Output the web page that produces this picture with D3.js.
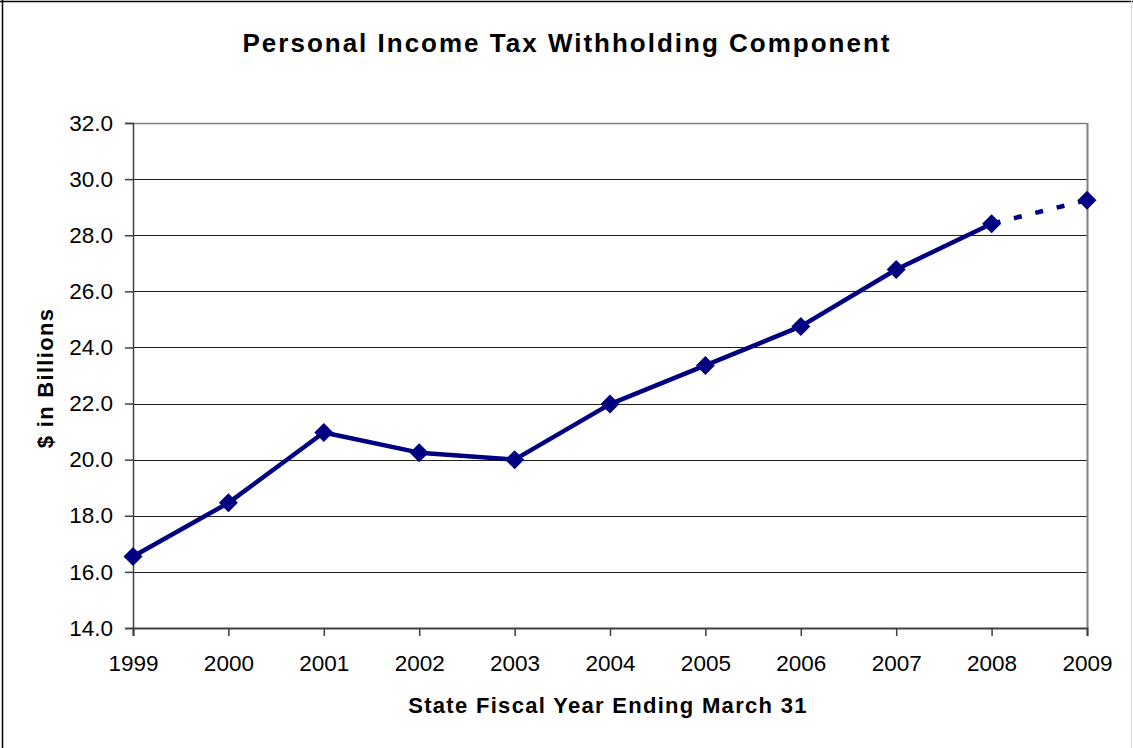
<!DOCTYPE html>
<html><head><meta charset="utf-8">
<script src="https://cdn.jsdelivr.net/npm/d3@7/dist/d3.min.js"></script>
<style>body{margin:0;background:#fff}svg{display:block}text{font-family:"Liberation Sans",Arial,sans-serif}</style>
</head><body>
<svg id="c" width="1133" height="748"></svg>
<script>
const years = ["1999","2000","2001","2002","2003","2004","2005","2006","2007","2008","2009"];
const values = [16.55, 18.46, 20.97, 20.25, 20.0, 21.98, 23.36, 24.75, 26.78, 28.41, 29.25];
const actualCount = 10; // 1999-2008 solid, 2008-2009 dashed (projection)
const yTicks = [14,16,18,20,22,24,26,28,30,32];
const title = "Personal Income Tax Withholding Component";
const xTitle = "State Fiscal Year Ending March 31";
const yTitle = "$ in Billions";

const svg = d3.select("#c");
const L=133, R=1087, T=123, B=628;
const x = d3.scalePoint().domain(years).range([L,R]);
const y = d3.scaleLinear().domain([14,32]).range([B,T]);
const FONT = '"Liberation Sans",Arial,sans-serif';

// outer border
svg.append("line").attr("x1",2.5).attr("x2",2.5).attr("y1",0).attr("y2",748).attr("stroke","#000").attr("stroke-width",1.5);
svg.append("line").attr("x1",0).attr("x2",1133).attr("y1",1.5).attr("y2",1.5).attr("stroke","#000").attr("stroke-width",1.5);
svg.append("line").attr("x1",1131.5).attr("x2",1131.5).attr("y1",0).attr("y2",748).attr("stroke","#ddd").attr("stroke-width",1);

// gridlines
svg.append("g").selectAll("line").data(yTicks.filter(d=>d>14)).join("line")
  .attr("x1",L).attr("x2",R).attr("y1",d=>Math.round(y(d))+0.5).attr("y2",d=>Math.round(y(d))+0.5)
  .attr("stroke",d=>d===32?"#808080":"#222").attr("stroke-width",d=>d===32?1.5:1.2);
// right border
svg.append("line").attr("x1",R+0.5).attr("x2",R+0.5).attr("y1",T).attr("y2",B).attr("stroke","#808080").attr("stroke-width",2);

// y axis
const ya = svg.append("g").attr("transform",`translate(${L},0)`)
  .call(d3.axisLeft(y).tickValues(yTicks).tickFormat(d3.format(".1f")).tickSize(8).tickPadding(12));
ya.select(".domain").attr("stroke","#404040").attr("stroke-width",1.5);
ya.selectAll(".tick line").attr("stroke","#404040").attr("stroke-width",1.5);
ya.selectAll("text").attr("font-size",22.5).attr("fill","#000").style("font-family",FONT);

// x axis
const xa = svg.append("g").attr("transform",`translate(0,${B})`)
  .call(d3.axisBottom(x).tickSize(8).tickPadding(19));
xa.select(".domain").attr("stroke","#404040").attr("stroke-width",2);
xa.selectAll(".tick line").attr("stroke","#404040").attr("stroke-width",1.5);
xa.selectAll("text").attr("font-size",22.5).attr("fill","#000").style("font-family",FONT);

// line
const pts = years.map((yr,i)=>({yr,v:values[i]}));
const line = d3.line().x(d=>x(d.yr)).y(d=>y(d.v));
svg.append("path").datum(pts.slice(0,actualCount)).attr("d",line)
  .attr("fill","none").attr("stroke","#000080").attr("stroke-width",4.5).attr("stroke-linejoin","round");
svg.append("path").datum(pts.slice(actualCount-1)).attr("d",line)
  .attr("fill","none").attr("stroke","#000080").attr("stroke-width",4.5).attr("stroke-dasharray","8,14").attr("stroke-dashoffset",21);

// markers
svg.append("g").selectAll("path").data(pts).join("path")
  .attr("d",d3.symbol().type(d3.symbolDiamond2).size(230))
  .attr("transform",d=>`translate(${x(d.yr)},${y(d.v)})`)
  .attr("fill","#000080");

// titles
svg.append("text").attr("x",567).attr("y",52).attr("text-anchor","middle")
  .attr("font-size",26).attr("font-weight","bold").attr("letter-spacing",2).text(title);
svg.append("text").attr("x",608).attr("y",713).attr("text-anchor","middle")
  .attr("font-size",22).attr("font-weight","bold").attr("letter-spacing",1.3).text(xTitle);
svg.append("text").attr("transform","translate(53,378) rotate(-90)").attr("text-anchor","middle")
  .attr("font-size",22).attr("font-weight","bold").attr("letter-spacing",1.3).text(yTitle);
</script>
</body></html>
